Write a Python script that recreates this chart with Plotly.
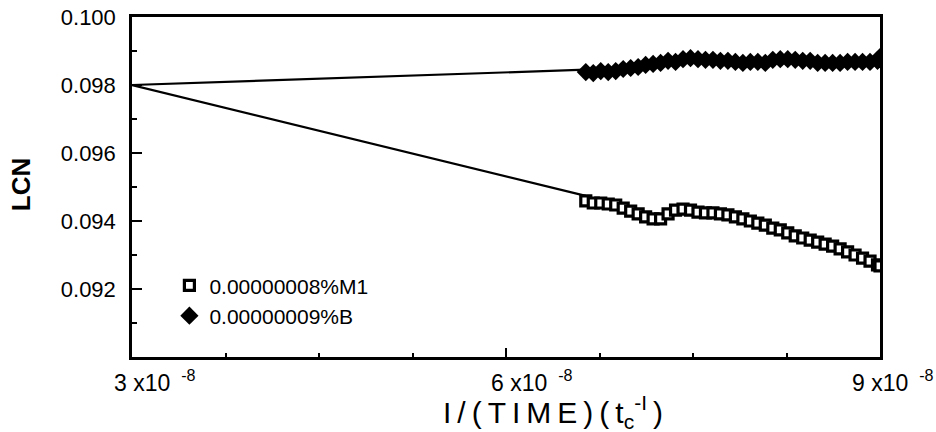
import plotly.graph_objects as go

# --- data (x in units of 1e-8) ---
x_data = [6.64, 6.70, 6.76, 6.82, 6.88, 6.94, 7.00, 7.06, 7.12, 7.18, 7.24, 7.30, 7.36, 7.42,
          7.48, 7.54, 7.60, 7.66, 7.72, 7.78, 7.84, 7.90, 7.96, 8.02, 8.08, 8.14, 8.20, 8.26,
          8.32, 8.38, 8.44, 8.50, 8.56, 8.62, 8.68, 8.74, 8.80, 8.86, 8.92, 8.98, 9.00]
m1_lcn = [0.09459, 0.09453, 0.09453, 0.09450, 0.09447, 0.09438, 0.09429, 0.09421, 0.09412,
          0.09406, 0.09406, 0.09421, 0.09432, 0.09435, 0.09432, 0.09426, 0.09424, 0.09424,
          0.09421, 0.09418, 0.09412, 0.09406, 0.09400, 0.09394, 0.09388, 0.09379, 0.09374,
          0.09365, 0.09356, 0.09350, 0.09344, 0.09338, 0.09332, 0.09326, 0.09318, 0.09309,
          0.09300, 0.09291, 0.09282, 0.09271, 0.09268]
b_lcn = [0.09838, 0.09835, 0.09841, 0.09838, 0.09841, 0.09847, 0.09850, 0.09853, 0.09859,
         0.09862, 0.09865, 0.09871, 0.09868, 0.09876, 0.09879, 0.09876, 0.09874, 0.09874,
         0.09871, 0.09871, 0.09868, 0.09865, 0.09868, 0.09868, 0.09865, 0.09874, 0.09876,
         0.09876, 0.09874, 0.09871, 0.09871, 0.09865, 0.09865, 0.09865, 0.09865, 0.09868,
         0.09868, 0.09868, 0.09868, 0.09871, 0.09882]
fit_x = [3.0, 6.64]
fit_m1 = [0.0980, 0.09474]
fit_b = [0.0980, 0.09845]

x_tickvals = [3.0, 6.0, 9.0]
x_ticktext = ["3 x10 \u2009<sup>-8</sup>", "6 x10 \u2009<sup>-8</sup>", "9 x10 \u2009<sup>-8</sup>"]
y_tickvals = [0.092, 0.094, 0.096, 0.098, 0.100]
y_ticktext = ["0.092", "0.094", "0.096", "0.098", "0.100"]

scale = 1e-8
FONT = "Liberation Sans, Arial, sans-serif"
TS = "\u2009"
x_title = TS.join(["I", "/", "(", "T", "I", "M", "E", ")", "(", "t<sub>c</sub><sup>-I</sup>", ")"])
x_label_shift = [-20, -17, -30]

fig = go.Figure()
fig.add_trace(go.Scatter(x=[v * scale for v in fit_x], y=fit_b, mode="lines",
                         line=dict(color="black", width=2.2), showlegend=False))
fig.add_trace(go.Scatter(x=[v * scale for v in fit_x], y=fit_m1, mode="lines",
                         line=dict(color="black", width=2.2), showlegend=False))
fig.add_trace(go.Scatter(x=[v * scale for v in x_data], y=m1_lcn, mode="markers",
                         name="0.00000008%M1",
                         marker=dict(symbol="square", size=10, color="white",
                                     line=dict(color="black", width=3.2))))
fig.add_trace(go.Scatter(x=[v * scale for v in x_data], y=b_lcn, mode="markers",
                         name="0.00000009%B",
                         marker=dict(symbol="diamond", size=14, color="black",
                                     line=dict(color="black", width=0))))

annotations = [
    dict(text="<b>LCN</b>", xref="paper", yref="paper", x=-0.149, y=0.507,
         xanchor="center", yanchor="middle", textangle=-90, showarrow=False,
         font=dict(size=26, family=FONT)),
    dict(text=x_title, xref="paper", yref="paper",
         x=0.563, y=-0.095, xanchor="center", yanchor="top", showarrow=False,
         font=dict(size=30, family=FONT)),
]
for v, t, s in zip(x_tickvals, x_ticktext, x_label_shift):
    annotations.append(dict(text=t, xref="x", yref="paper", x=v * scale, y=-0.022,
                            xanchor="left", yanchor="top", xshift=s, showarrow=False,
                            font=dict(size=23, family=FONT)))

fig.update_layout(
    width=936, height=432, autosize=False,
    margin=dict(l=132, r=56, t=17, b=75, autoexpand=False),
    paper_bgcolor="white", plot_bgcolor="white",
    font=dict(family=FONT, color="black"),
    showlegend=True,
    legend=dict(x=0.05, y=0.27, xanchor="left", yanchor="top",
                bgcolor="rgba(0,0,0,0)", font=dict(size=21, family=FONT),
                tracegroupgap=0, itemsizing="trace"),
    xaxis=dict(range=[3.0 * scale, 9.0 * scale], automargin=False,
               tickvals=[v * scale for v in x_tickvals], showticklabels=False,
               ticks="inside", ticklen=9, tickwidth=2, tickcolor="black",
               showline=True, linecolor="black", linewidth=2.5, mirror=True,
               showgrid=False, zeroline=False,
               minor=dict(ticks="inside", ticklen=4, tickwidth=1.5, tickcolor="black",
                          tick0=3.0 * scale, dtick=0.75 * scale, showgrid=False)),
    yaxis=dict(range=[0.090, 0.100], automargin=False,
               tickvals=y_tickvals, ticktext=y_ticktext,
               ticks="inside", ticklen=10, tickwidth=2, tickcolor="black",
               showline=True, linecolor="black", linewidth=2.5, mirror=True,
               showgrid=False, zeroline=False,
               tickfont=dict(size=22, family=FONT),
               ticklabelstandoff=9,
               minor=dict(ticks="inside", ticklen=5, tickwidth=1.5, tickcolor="black",
                          tick0=0.090, dtick=0.001, showgrid=False)),
    annotations=annotations,
)

fig.write_html("out.html")
